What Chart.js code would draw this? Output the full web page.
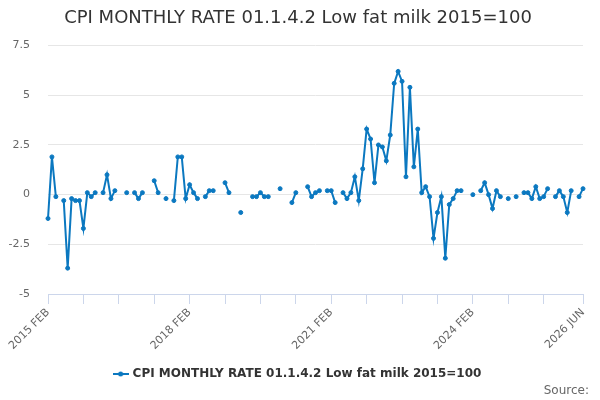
<!DOCTYPE html>
<html>
<head>
<meta charset="utf-8">
<script src="https://cdn.jsdelivr.net/npm/chart.js@4"></script>
<style>
  html, body { margin: 0; padding: 0; background: #fff; }
  #wrap { width: 600px; height: 400px; }
</style>
</head>
<body>
<div id="wrap"><canvas id="cpi-milk"></canvas></div>
<script>
const chartTitle = 'CPI MONTHLY RATE 01.1.4.2 Low fat milk 2015=100';
const monthNames = ['JAN', 'FEB', 'MAR', 'APR', 'MAY', 'JUN', 'JUL', 'AUG', 'SEP', 'OCT', 'NOV', 'DEC'];
const startYear = 2015;
const startMonth = 1; // FEB

// one row per calendar year, first row starts at 2015 FEB, last ends 2026 JUN
const rate2015 = [-1.2, 1.9, -0.1, null, -0.3, -3.7, -0.2, -0.3, -0.3, -1.7, 0.1];
const rate2016 = [-0.1, 0.1, null, 0.1, 1.0, -0.2, 0.2, null, null, 0.1, null, 0.1];
const rate2017 = [-0.2, 0.1, null, null, 0.7, 0.1, null, -0.2, null, -0.3, 1.9, 1.9];
const rate2018 = [-0.2, 0.5, 0.1, -0.2, null, -0.1, 0.2, 0.2, null, null, 0.6, 0.1];
const rate2019 = [null, null, -0.9, null, null, -0.1, -0.1, 0.1, -0.1, -0.1, null, null];
const rate2020 = [0.3, null, null, -0.4, 0.1, null, null, 0.4, -0.1, 0.1, 0.2, null];
const rate2021 = [0.2, 0.2, -0.4, null, 0.1, -0.2, 0.1, 0.9, -0.3, 1.3, 3.3, 2.8];
const rate2022 = [0.6, 2.5, 2.4, 1.7, 3.0, 5.6, 6.2, 5.7, 0.9, 5.4, 1.4, 3.3];
const rate2023 = [0.1, 0.4, -0.1, -2.2, -0.9, -0.1, -3.2, -0.5, -0.2, 0.2, 0.2, null];
const rate2024 = [null, 0.0, null, 0.2, 0.6, 0.0, -0.7, 0.2, -0.1, null, -0.2, null];
const rate2025 = [-0.1, null, 0.1, 0.1, -0.2, 0.4, -0.2, -0.1, 0.3, null, -0.1, 0.2];
const rate2026 = [-0.1, -0.9, 0.2, null, -0.1, 0.3];

const rates = [].concat(rate2015, rate2016, rate2017, rate2018, rate2019, rate2020,
  rate2021, rate2022, rate2023, rate2024, rate2025, rate2026);

const months = rates.map((v, i) => {
  const m = startMonth + i;
  return (startYear + Math.floor(m / 12)) + ' ' + monthNames[m % 12];
});

const shownLabels = ['2015 FEB', '2018 FEB', '2021 FEB', '2024 FEB', '2026 JUN'];
const yTicks = [-5, -2.5, 0, 2.5, 5, 7.5];

const lineColor = '#0b78c0';

function legendSymbol() {
  const c = document.createElement('canvas');
  c.width = 16;
  c.height = 6;
  const g = c.getContext('2d');
  g.strokeStyle = lineColor;
  g.lineWidth = 2;
  g.beginPath();
  g.moveTo(0, 3);
  g.lineTo(16, 3);
  g.stroke();
  g.fillStyle = lineColor;
  g.beginPath();
  g.arc(8, 3, 2.5, 0, Math.PI * 2);
  g.fill();
  return c;
}

const sourceNote = {
  id: 'sourceNote',
  afterDraw(chart) {
    const ctx = chart.ctx;
    ctx.save();
    ctx.font = '12px "DejaVu Sans"';
    ctx.fillStyle = '#666';
    ctx.textAlign = 'right';
    ctx.textBaseline = 'alphabetic';
    ctx.fillText('Source:', 589, 394);
    ctx.restore();
  }
};

Chart.defaults.font.family = '"DejaVu Sans", sans-serif';

const ctx = document.getElementById('cpi-milk');
new Chart(ctx, {
  type: 'line',
  data: {
    labels: months,
    datasets: [{
      label: chartTitle,
      data: rates,
      borderColor: lineColor,
      backgroundColor: lineColor,
      borderWidth: 2,
      pointRadius: 2,
      pointBorderWidth: 1,
      pointStyle: 'circle',
      tension: 0,
      spanGaps: false
    }]
  },
  plugins: [sourceNote],
  options: {
    responsive: true,
    maintainAspectRatio: false,
    animation: false,
    layout: {
      // left padding keeps title and legend centred like the original
      padding: { top: 0, bottom: 10, left: 13, right: 17 }
    },
    plugins: {
      title: {
        display: true,
        text: chartTitle,
        color: '#333',
        font: { size: 18, weight: 'normal' },
        padding: { top: 8, bottom: 16 }
      },
      legend: {
        position: 'bottom',
        labels: {
          color: '#333',
          font: { size: 12, weight: 'bold' },
          usePointStyle: true,
          pointStyle: legendSymbol(),
          padding: 10
        }
      },
      tooltip: { enabled: false }
    },
    scales: {
      x: {
        offset: false,
        border: { display: true, color: '#ccd6eb', width: 1 },
        grid: {
          drawOnChartArea: false,
          drawTicks: true,
          tickLength: 10,
          color: (c) => (c.index % 9 === 0 || c.index === rates.length - 1) && c.index !== 135 ? '#ccd6eb' : 'rgba(0,0,0,0)'
        },
        ticks: {
          autoSkip: false,
          maxRotation: 45,
          minRotation: 45,
          padding: 2,
          color: '#666',
          font: { size: 11 },
          callback: function (value, index) {
            const lab = months[index];
            return shownLabels.includes(lab) ? lab : '';
          }
        },
        afterFit: (scale) => { scale.height = 64; }
      },
      y: {
        min: -5,
        max: 7.5,
        border: { display: false },
        grid: {
          drawTicks: false,
          color: (c) => c.tick && c.tick.value === -5 ? 'rgba(0,0,0,0)' : '#e6e6e6'
        },
        afterBuildTicks: (scale) => {
          scale.ticks = yTicks.map((v) => ({ value: v }));
        },
        ticks: {
          padding: 18,
          color: '#666',
          font: { size: 11 },
          callback: (v) => String(v)
        },
        afterFit: (scale) => {
          scale.width = 35;
          // labels may run into the left padding, so don't clip them
          scale._computeLabelArea = () => undefined;
        }
      }
    }
  }
});
</script>
</body>
</html>
